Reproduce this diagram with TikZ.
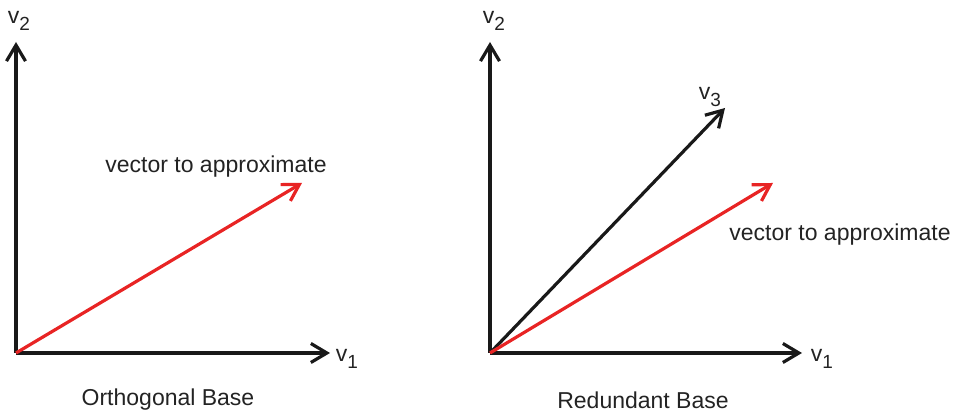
\documentclass[tikz,border=0pt]{standalone}
\usepackage{fontspec}
\setmainfont{Liberation Sans}
\usetikzlibrary{arrows.meta}
\definecolor{vecred}{RGB}{232,36,36}
\definecolor{inkgray}{RGB}{35,35,35}
\newcommand{\vsub}[1]{v\raisebox{-0.55ex}{\fontsize{9.5}{11}\selectfont #1}}
\tikzset{
  axis/.style={black!90, line width=1.6pt, -{Straight Barb[length=8pt, width=9.5pt, line width=1.6pt]}},
  target/.style={vecred, line width=1.6pt, -{Straight Barb[length=8pt, width=9.5pt, line width=1.6pt]}},
  lbl/.style={inner sep=0pt, text=inkgray, font=\fontsize{11.5}{13}\selectfont}
}
\begin{document}
\begin{tikzpicture}[x=0.5pt, y=-0.5pt]
    \useasboundingbox (0,0) rectangle (955,415);
    % Left panel: orthogonal base.
        \coordinate (oL) at (16,353);
        \coordinate (v1L) at (330,353);
        \coordinate (v2L) at (16,42);
        \coordinate (tL) at (302,183);
        \draw[axis] (oL) -- (v1L);
        \draw[axis] (oL) -- (v2L);
        \draw[target] (oL) -- (tL);
        \node[lbl] (v1Llbl) at (347,359) {\vsub{1}};
        \node[lbl] (v2Llbl) at (19,21) {\vsub{2}};
        \node[lbl] (tLlbl) at (216,167) {vector to approximate};
        \node[lbl] (capL) at (168,400) {Orthogonal Base};
    % Right panel: redundant base.
        \coordinate (oR) at (490,353);
        \coordinate (v1R) at (802,353);
        \coordinate (v2R) at (490,42);
        \coordinate (v3R) at (725,108);
        \coordinate (tR) at (773,183);
        \draw[axis] (oR) -- (v1R);
        \draw[axis] (oR) -- (v2R);
        \draw[axis] (oR) -- (v3R);
        \draw[target] (oR) -- (tR);
        \node[lbl] (v1Rlbl) at (822,359) {\vsub{1}};
        \node[lbl] (v2Rlbl) at (494,21) {\vsub{2}};
        \node[lbl] (v3Rlbl) at (710,97) {\vsub{3}};
        \node[lbl] (tRlbl) at (840,235) {vector to approximate};
        \node[lbl] (capR) at (643,400) {Redundant Base};
\end{tikzpicture}
\end{document}
